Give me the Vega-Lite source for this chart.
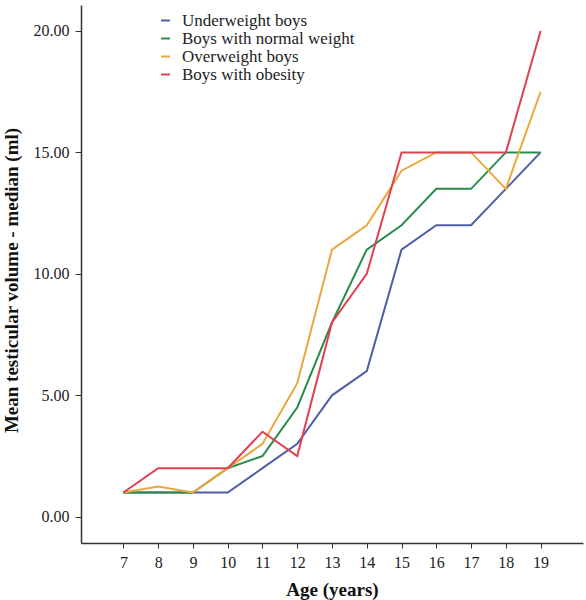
{
  "$schema": "https://vega.github.io/schema/vega-lite/v6.json",
  "autosize": {"type": "none"},
  "width": 502,
  "height": 538,
  "padding": {"left": 81, "top": 5, "right": 3, "bottom": 57},
  "background": "white",
  "config": {
    "view": {"stroke": null},
    "font": "Liberation Serif"
  },
  "data": {
    "values": [
      {"age": 7, "group": "Underweight boys", "volume": 1},
      {"age": 8, "group": "Underweight boys", "volume": 1},
      {"age": 9, "group": "Underweight boys", "volume": 1},
      {"age": 10, "group": "Underweight boys", "volume": 1},
      {"age": 11, "group": "Underweight boys", "volume": 2},
      {"age": 12, "group": "Underweight boys", "volume": 3},
      {"age": 13, "group": "Underweight boys", "volume": 5},
      {"age": 14, "group": "Underweight boys", "volume": 6},
      {"age": 15, "group": "Underweight boys", "volume": 11},
      {"age": 16, "group": "Underweight boys", "volume": 12},
      {"age": 17, "group": "Underweight boys", "volume": 12},
      {"age": 18, "group": "Underweight boys", "volume": 13.5},
      {"age": 19, "group": "Underweight boys", "volume": 15},
      {"age": 7, "group": "Boys with normal weight", "volume": 1},
      {"age": 8, "group": "Boys with normal weight", "volume": 1},
      {"age": 9, "group": "Boys with normal weight", "volume": 1},
      {"age": 10, "group": "Boys with normal weight", "volume": 2},
      {"age": 11, "group": "Boys with normal weight", "volume": 2.5},
      {"age": 12, "group": "Boys with normal weight", "volume": 4.5},
      {"age": 13, "group": "Boys with normal weight", "volume": 8},
      {"age": 14, "group": "Boys with normal weight", "volume": 11},
      {"age": 15, "group": "Boys with normal weight", "volume": 12},
      {"age": 16, "group": "Boys with normal weight", "volume": 13.5},
      {"age": 17, "group": "Boys with normal weight", "volume": 13.5},
      {"age": 18, "group": "Boys with normal weight", "volume": 15},
      {"age": 19, "group": "Boys with normal weight", "volume": 15},
      {"age": 7, "group": "Overweight boys", "volume": 1},
      {"age": 8, "group": "Overweight boys", "volume": 1.25},
      {"age": 9, "group": "Overweight boys", "volume": 1},
      {"age": 10, "group": "Overweight boys", "volume": 2},
      {"age": 11, "group": "Overweight boys", "volume": 3},
      {"age": 12, "group": "Overweight boys", "volume": 5.5},
      {"age": 13, "group": "Overweight boys", "volume": 11},
      {"age": 14, "group": "Overweight boys", "volume": 12},
      {"age": 15, "group": "Overweight boys", "volume": 14.25},
      {"age": 16, "group": "Overweight boys", "volume": 15},
      {"age": 17, "group": "Overweight boys", "volume": 15},
      {"age": 18, "group": "Overweight boys", "volume": 13.5},
      {"age": 19, "group": "Overweight boys", "volume": 17.5},
      {"age": 7, "group": "Boys with obesity", "volume": 1},
      {"age": 8, "group": "Boys with obesity", "volume": 2},
      {"age": 9, "group": "Boys with obesity", "volume": 2},
      {"age": 10, "group": "Boys with obesity", "volume": 2},
      {"age": 11, "group": "Boys with obesity", "volume": 3.5},
      {"age": 12, "group": "Boys with obesity", "volume": 2.5},
      {"age": 13, "group": "Boys with obesity", "volume": 8},
      {"age": 14, "group": "Boys with obesity", "volume": 10},
      {"age": 15, "group": "Boys with obesity", "volume": 15},
      {"age": 16, "group": "Boys with obesity", "volume": 15},
      {"age": 17, "group": "Boys with obesity", "volume": 15},
      {"age": 18, "group": "Boys with obesity", "volume": 15},
      {"age": 19, "group": "Boys with obesity", "volume": 20}
    ]
  },
  "mark": {"type": "line", "strokeWidth": 2, "clip": true},
  "encoding": {
    "x": {
      "field": "age",
      "type": "quantitative",
      "scale": {"domain": [5.78, 20.22], "nice": false, "zero": false},
      "axis": {
        "title": "Age (years)",
        "values": [7, 8, 9, 10, 11, 12, 13, 14, 15, 16, 17, 18, 19],
        "grid": false,
        "domainColor": "#333333",
        "domainWidth": 1.5,
        "tickColor": "#333333",
        "tickSize": 5,
        "labelFont": "Liberation Serif",
        "labelFontSize": 16,
        "labelColor": "#222222",
        "labelPadding": 6,
        "titleFont": "Liberation Serif",
        "titleFontSize": 19,
        "titleFontWeight": "bold",
        "titleColor": "#111111",
        "titlePadding": 10
      }
    },
    "y": {
      "field": "volume",
      "type": "quantitative",
      "scale": {"domain": [-1.08, 21.07], "nice": false, "zero": false},
      "axis": {
        "title": "Mean testicular volume - median (ml)",
        "values": [0, 5, 10, 15, 20],
        "format": ".2f",
        "grid": false,
        "domainColor": "#333333",
        "domainWidth": 1.5,
        "tickColor": "#333333",
        "tickSize": 6,
        "labelFont": "Liberation Serif",
        "labelFontSize": 16,
        "labelColor": "#222222",
        "labelPadding": 6,
        "titleFont": "Liberation Serif",
        "titleFontSize": 19,
        "titleFontWeight": "bold",
        "titleColor": "#111111",
        "titlePadding": 12,
        "titleY": 275
      }
    },
    "color": {
      "field": "group",
      "type": "nominal",
      "sort": ["Underweight boys", "Boys with normal weight", "Overweight boys", "Boys with obesity"],
      "scale": {
        "domain": ["Underweight boys", "Boys with normal weight", "Overweight boys", "Boys with obesity"],
        "range": ["#4f5ea6", "#2a8c4a", "#eba83a", "#e0404f"]
      },
      "legend": {
        "title": null,
        "orient": "none",
        "legendX": 76,
        "legendY": 7,
        "symbolType": "stroke",
        "symbolSize": 80,
        "symbolStrokeWidth": 2,
        "labelFont": "Liberation Serif",
        "labelFontSize": 17,
        "labelColor": "#222222",
        "labelOffset": 8,
        "labelLimit": 400,
        "rowPadding": 0
      }
    }
  }
}
